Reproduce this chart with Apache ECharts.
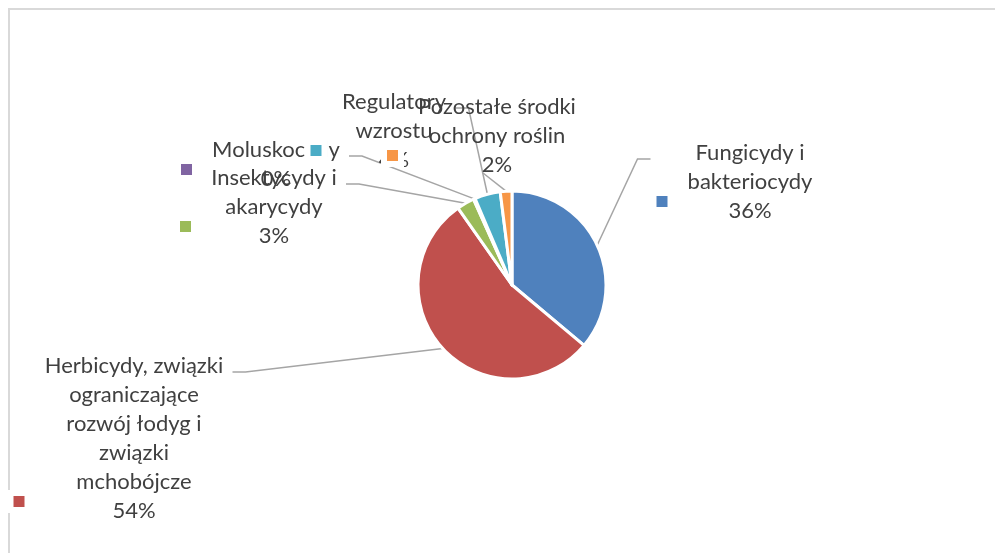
<!DOCTYPE html>
<html>
<head>
<meta charset="utf-8">
<script src="https://cdn.jsdelivr.net/npm/echarts@6/dist/echarts.min.js"></script>
<style>
  html, body { margin: 0; padding: 0; background: #ffffff; }
  #chart { width: 995px; height: 553px; }
</style>
</head>
<body>
<div id="chart"></div>
<script>
// Categories of plant protection products and their shares
const categories = [
  'Fungicydy i bakteriocydy',
  'Herbicydy, związki ograniczające rozwój łodyg i związki mchobójcze',
  'Insektycydy i akarycydy',
  'Moluskocydy',
  'Regulatory wzrostu',
  'Pozostałe środki ochrony roślin'
];
// The same names, broken into the lines shown in each data label
const labelLines = [
  ['Fungicydy i', 'bakteriocydy'],
  ['Herbicydy, związki', 'ograniczające', 'rozwój łodyg i', 'związki', 'mchobójcze'],
  ['Insektycydy i', 'akarycydy'],
  ['Moluskocydy'],
  ['Regulatory', 'wzrostu'],
  ['Pozostałe środki', 'ochrony roślin']
];
const shares = [36, 54, 3, 0.3, 4.4, 2];
const colors = ['#4f81bd', '#c0504d', '#9bbb59', '#8064a2', '#4bacc6', '#f79646'];

// Label placement: centre x of the text column, top y, side the leader line joins
const labelPlacement = [
  { cx: 750, top: 138, side: 'left' },
  { cx: 134, top: 351, side: 'right' },
  { cx: 274, top: 163, side: 'right' },
  { cx: 276, top: 135, side: 'right' },
  { cx: 394, top: 87,  side: 'right' },
  { cx: 497, top: 92,  side: 'bottom' }
];

const FONT_FAMILY = 'Lato, "Open Sans", sans-serif';
const FONT_SIZE = 22;
const LINE_H = 29;
const TEXT_COLOR = '#404040';
const KEY_BOX = 11;      // legend key square
const KEY_RING = 6;      // white outline drawn under the key (half of it shows outside)
const KEY_GAP = 19;      // gap between key and text column
const LEAD = KEY_BOX + KEY_GAP;

const ctx = document.createElement('canvas').getContext('2d');
ctx.font = FONT_SIZE + 'px ' + FONT_FAMILY;
const textWidth = s => ctx.measureText(s).width;

function richFor(i) {
  const w = Math.ceil(Math.max.apply(null, labelLines[i].map(textWidth))) + 2;
  const base = { fontFamily: FONT_FAMILY, fontSize: FONT_SIZE, color: TEXT_COLOR, lineHeight: LINE_H };
  return {
    s: Object.assign({}, base, { width: LEAD, align: 'left' }),
    t: Object.assign({}, base, { width: w, align: 'center' }),
    k: Object.assign({}, base, {
      width: KEY_BOX, height: KEY_BOX, align: 'left', verticalAlign: 'top',
      backgroundColor: colors[i], borderColor: '#ffffff', borderWidth: KEY_RING
    }),
    g: Object.assign({}, base, { width: KEY_GAP, align: 'left' }),
    v: Object.assign({}, base, { width: w, align: 'center' })
  };
}

const pieData = categories.map((name, i) => ({
  name: name,
  value: shares[i],
  itemStyle: { color: colors[i] },
  label: { rich: richFor(i) }
}));

const chart = echarts.init(document.getElementById('chart'), null, { renderer: 'canvas' });

function sliceEdgePoint(i) {
  const lay = chart.getModel().getSeriesByIndex(0).getData().getItemLayout(i);
  const mid = (lay.startAngle + lay.endAngle) / 2;
  return [lay.cx + lay.r * Math.cos(mid), lay.cy + lay.r * Math.sin(mid)];
}

chart.setOption({
  backgroundColor: '#ffffff',
  animation: false,
  graphic: [{
    type: 'rect',
    shape: { x: 9, y: 9, width: 1010, height: 600 },
    style: { fill: 'none', stroke: '#d9d9d9', lineWidth: 2 },
    silent: true
  }],
  series: [{
    type: 'pie',
    center: [512, 285],
    radius: 94,
    startAngle: 90,
    clockwise: true,
    avoidLabelOverlap: false,
    itemStyle: { borderColor: '#ffffff', borderWidth: 3 },
    emphasis: { disabled: true },
    label: {
      show: true,
      position: 'outside',
      alignTo: 'none',
      fontFamily: FONT_FAMILY,
      fontSize: FONT_SIZE,
      color: TEXT_COLOR,
      lineHeight: LINE_H,
      formatter: p => {
        const rows = labelLines[p.dataIndex].map(t => '{s|}{t|' + t + '}');
        rows.push('{k|}{g|}{v|' + Math.round(p.percent) + '%}');
        return rows.join('\n');
      }
    },
    labelLine: {
      show: true,
      length: 10,
      length2: 10,
      lineStyle: { color: '#a5a5a5', width: 1.5 }
    },
    labelLayout: p => {
      const pl = labelPlacement[p.dataIndex];
      const w = p.labelRect.width;
      const h = p.labelRect.height;
      const colW = w - LEAD;
      const boxLeft = pl.cx - colW / 2 - LEAD;
      const start = (p.labelLinePoints && p.labelLinePoints[0]) || sliceEdgePoint(p.dataIndex);
      let end, elbow;
      if (pl.side === 'left') {
        end = [boxLeft - 3, pl.top + 21];
        elbow = [end[0] - 13, end[1]];
      } else if (pl.side === 'right') {
        end = [pl.cx + colW / 2 + 5, pl.top + 21];
        elbow = [end[0] + 13, end[1]];
      } else {
        end = [pl.cx - 14, pl.top + h - 6];
        elbow = end.slice();
      }
      return {
        x: boxLeft + w / 2,
        y: pl.top,
        align: 'center',
        verticalAlign: 'top',
        labelLinePoints: [start, elbow, end]
      };
    },
    data: pieData
  }]
});
</script>
</body>
</html>
